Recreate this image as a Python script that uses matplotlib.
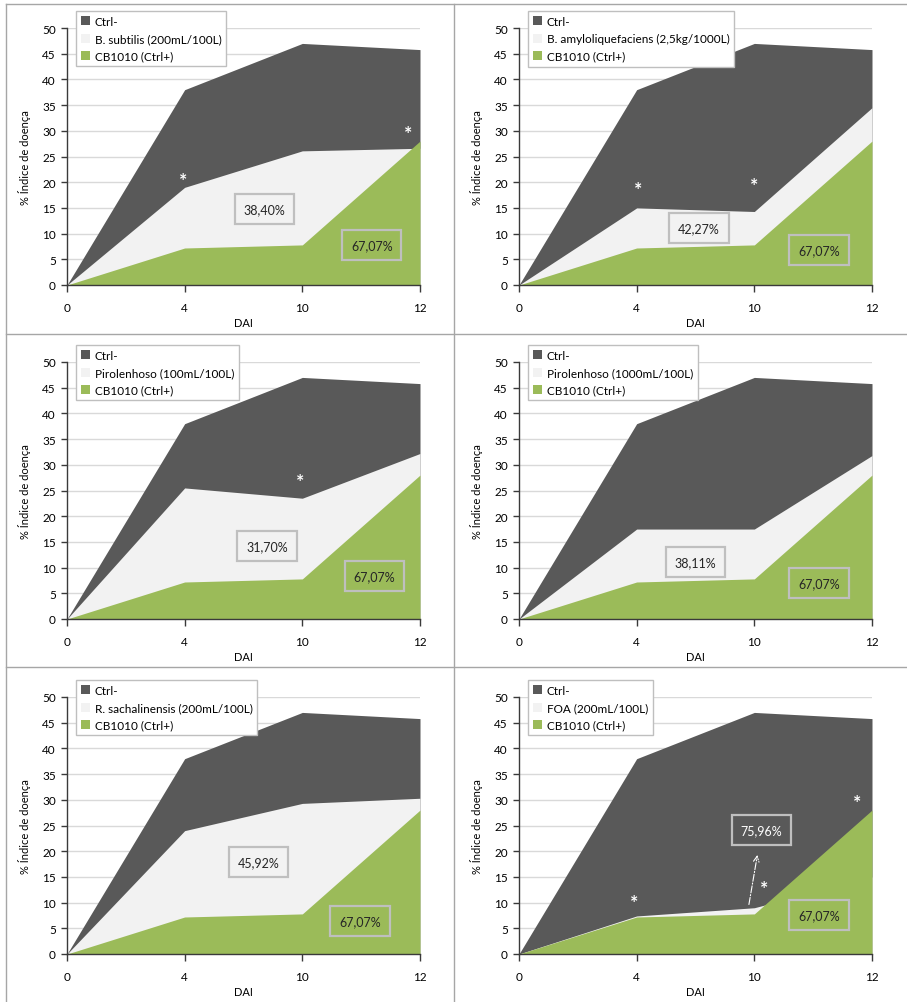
import numpy as np
import matplotlib.pyplot as plt
from matplotlib.patches import Patch
from matplotlib.lines import Line2D

plt.rcParams['font.family'] = ['Lato', 'DejaVu Sans']

# data
dai = ['0', '4', '10', '12']
ctrl_neg = [0, 38.0, 47.0, 45.8]
cb1010 = [0, 7.2, 7.8, 28.0]

treat_names = ['B. subtilis (200mL/100L)',
               'B. amyloliquefaciens (2,5kg/1000L)',
               'Pirolenhoso (100mL/100L)',
               'Pirolenhoso (1000mL/100L)',
               'R. sachalinensis (200mL/100L)',
               'FOA (200mL/100L)']
treat_vals = [[0, 19.0, 26.1, 26.6],
              [0, 15.0, 14.3, 34.5],
              [0, 25.5, 23.5, 32.2],
              [0, 17.5, 17.5, 31.8],
              [0, 24.0, 29.3, 30.3],
              [0, 7.4, 9.0, 15.0]]
treat_pct = ['38,40%', '42,27%', '31,70%', '38,11%', '45,92%', '75,96%']
ctrl_pos_pct = '67,07%'

# label positions (x in category index, y in % units)
pct_pos = [(1.68, 14.8), (1.53, 11.1), (1.70, 14.2), (1.50, 11.1), (1.63, 17.9), (2.06, 24.1)]
green_pos = [(2.59, 7.8), (2.55, 6.8), (2.61, 8.4), (2.55, 7.0), (2.49, 6.4), (2.55, 7.6)]
stars = [[(0.99, 21.4), (2.9, 30.5)],
         [(1.01, 19.6), (2.0, 20.4)],
         [(1.98, 27.8)],
         [],
         [],
         [(0.98, 11.1), (2.08, 13.8), (2.87, 30.5)]]

dark = '#595959'
light = '#f2f2f2'
green = '#9bbb59'

W, H = 907, 1003
fig = plt.figure(figsize=(W / 100, H / 100), dpi=100)

lefts = [67, 519]
bottoms = [286, 620, 955]
x = np.arange(len(dai))

for i in range(6):
    r, c = divmod(i, 2)
    l = lefts[c] / W
    b = 1 - bottoms[r] / H
    ax = fig.add_axes([l, b, 353 / W, 257 / H])

    ax.fill_between(x, 0, ctrl_neg, color=dark, lw=0)
    ax.fill_between(x, 0, treat_vals[i], color=light, lw=0)
    ax.fill_between(x, 0, cb1010, color=green, lw=0)

    ax.set_xlim(0, 3)
    ax.set_ylim(0, 50)
    ax.set_xticks(x)
    ax.set_xticklabels(dai)
    ax.set_yticks(np.arange(0, 51, 5))
    ax.grid(axis='y', color='#d9d9d9', lw=1)
    ax.set_axisbelow(True)
    for s in ['top', 'right']:
        ax.spines[s].set_visible(False)
    for s in ['left', 'bottom']:
        ax.spines[s].set_color('#3a3a3a')
        ax.spines[s].set_linewidth(1)
    ax.tick_params(axis='y', direction='out', length=4, width=1, color='#3a3a3a',
                   labelsize=8.5, pad=4)
    ax.tick_params(axis='x', direction='out', length=5, width=1, color='#3a3a3a',
                   labelsize=8.5, pad=7)
    ax.set_ylabel('% Índice de doença', fontsize=8, labelpad=8)
    ax.set_xlabel('DAI', fontsize=8, labelpad=3)

    # percentage boxes
    px, py = pct_pos[i]
    if i == 5:
        ax.text(px, py, treat_pct[i], ha='center', va='center', fontsize=9, color='white',
                bbox=dict(boxstyle='square,pad=0.7', fc=dark, ec='#bfbfbf', lw=1.6))
        ax.annotate('', xy=(2.03, 19.8), xytext=(1.95, 9.1),
                    arrowprops=dict(arrowstyle='->', color='white', lw=0.8, ls='-.'))
    else:
        ax.text(px, py, treat_pct[i], ha='center', va='center', fontsize=9, color='#262626',
                bbox=dict(boxstyle='square,pad=0.7', fc=light, ec='#bfbfbf', lw=1.6))
    gx, gy = green_pos[i]
    ax.text(gx, gy, ctrl_pos_pct, ha='center', va='center', fontsize=9, color='#262626',
            bbox=dict(boxstyle='square,pad=0.7', fc=green, ec='#bfbfbf', lw=1.6))

    # asterisk glyph sits high in its box, so nudge it down a little
    for sx, sy in stars[i]:
        ax.annotate('*', (sx, sy), xytext=(0, -4), textcoords='offset points',
                    ha='center', va='center', fontsize=14, color='white', fontweight='bold')

    handles = [Patch(fc=dark, ec='none'), Patch(fc=light, ec='none'), Patch(fc=green, ec='none')]
    leg = ax.legend(handles, ['Ctrl-', treat_names[i], 'CB1010 (Ctrl+)'],
                    loc='upper left', bbox_to_anchor=(0.025, 1.066), fontsize=8.5,
                    frameon=True, fancybox=False, edgecolor='#bfbfbf', framealpha=1,
                    handlelength=0.8, handleheight=0.8, handletextpad=0.4,
                    labelspacing=0.55, borderpad=0.4, borderaxespad=0)
    leg.get_frame().set_linewidth(1)

# panel borders
bc = '#a6a6a6'
fig.add_artist(Line2D([6 / W, 6 / W], [0, 1 - 5 / H], color=bc, lw=1))
fig.add_artist(Line2D([454 / W, 454 / W], [0, 1 - 5 / H], color=bc, lw=1))
for yy in [5, 335, 668]:
    fig.add_artist(Line2D([6 / W, 1], [1 - yy / H, 1 - yy / H], color=bc, lw=1))

fig.savefig('out.png', dpi=100)
